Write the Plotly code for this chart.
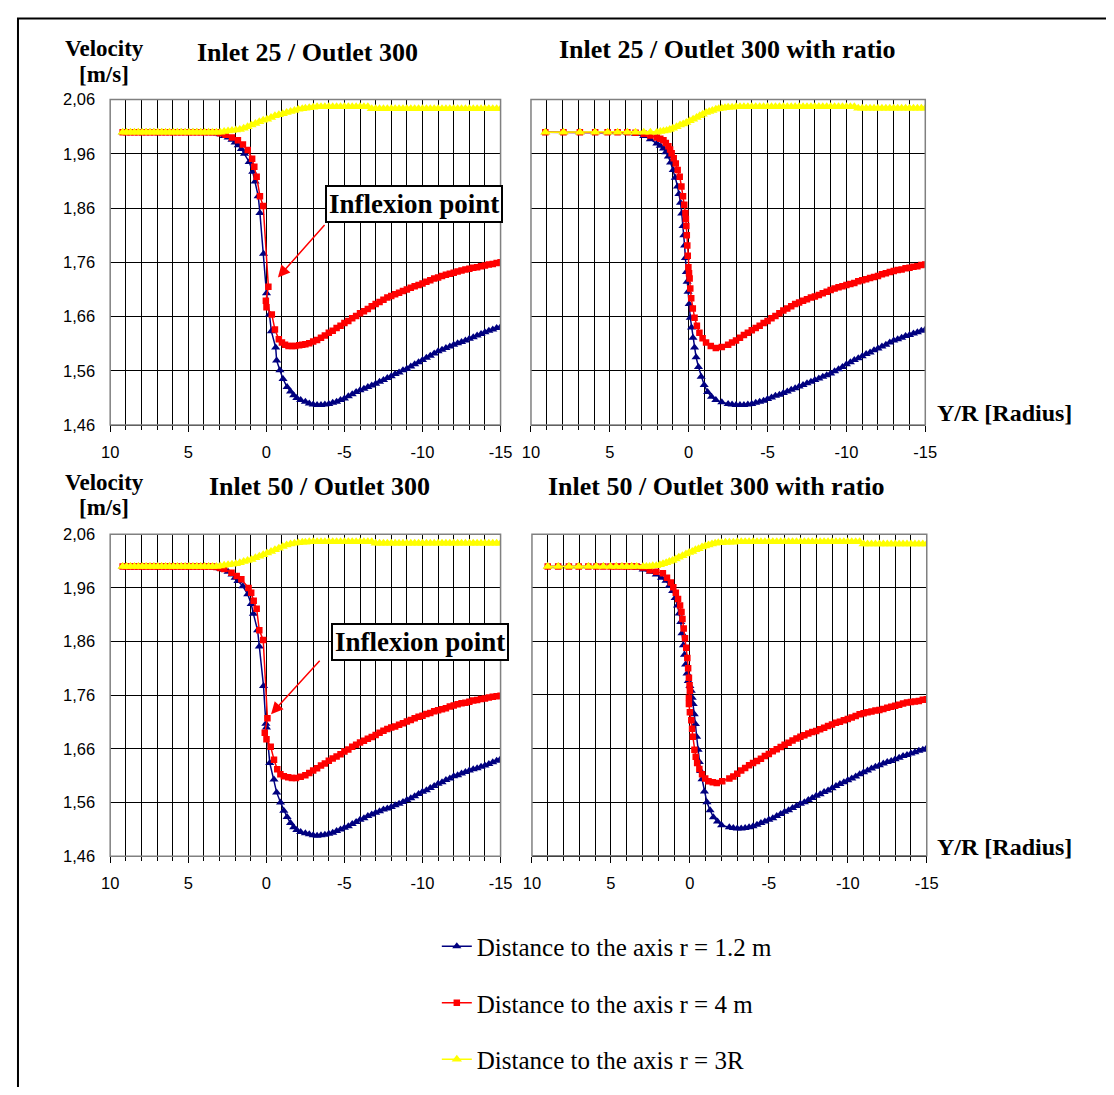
import plotly.graph_objects as go

# the html body has an 8px margin, so the figure is inset by 8px on the page;
# the figure is sized so that figure + margins exactly fill the 1114x1095 window
PAGE_OFF = 8
FW, FH = 1098, 1079

# ---------------- data ----------------
X_TICK_VALS = [10, 5, 0, -5, -10, -15]
X_TICK_TEXT = ["10", "5", "0", "-5", "-10", "-15"]
Y_TICK_VALS = [2.06, 1.96, 1.86, 1.76, 1.66, 1.56, 1.46]
Y_TICK_TEXT = ["2,06", "1,96", "1,86", "1,76", "1,66", "1,56", "1,46"]

SERIES_NAMES = ["Distance to the axis r = 1.2 m",
                "Distance to the axis r = 4 m",
                "Distance to the axis r = 3R"]

PANEL_TITLES = ["Inlet 25 / Outlet 300", "Inlet 25 / Outlet 300 with ratio",
                "Inlet 50 / Outlet 300", "Inlet 50 / Outlet 300 with ratio"]

# outlet-side positions shared by all series
TAIL_X = [-2.5, -2.75, -3.0, -3.25, -3.5, -3.75, -4.0, -4.25, -4.5, -4.75,
          -5.0, -5.25, -5.5, -5.75, -6.0, -6.25, -6.5, -6.75, -7.0, -7.25,
          -7.5, -7.75, -8.0, -8.25, -8.5, -8.75, -9.0, -9.25, -9.5, -9.75,
          -10.0, -10.25, -10.5, -10.75, -11.0, -11.25, -11.5, -11.75, -12.0, -12.25,
          -12.5, -12.75, -13.0, -13.25, -13.5, -13.75, -14.0, -14.25, -14.5, -14.75, -15.0]

# uniform mesh (left panels), inlet side
FLAT_X = [9.2, 8.95, 8.7, 8.45, 8.2, 7.95, 7.7, 7.45, 7.2, 6.95, 6.7, 6.45, 6.2, 5.95,
          5.7, 5.45, 5.2, 4.95, 4.7, 4.45, 4.2, 3.95, 3.7]
FLAT_V = [2.000, 2.000, 2.000, 2.000, 2.000, 2.000, 2.000, 2.000, 2.000, 2.000, 2.000, 2.000,
          2.000, 2.000, 2.000, 2.000, 2.000, 2.000, 2.000, 2.000, 2.000, 2.000, 2.000]

YEL_MID_X = [3.45, 3.2, 2.95, 2.7, 2.45, 2.2, 1.95, 1.7, 1.45, 1.2, 0.95, 0.7, 0.45, 0.2,
             -0.05, -0.3, -0.55, -0.8, -1.05, -1.3, -1.55, -1.8, -2.05, -2.3]

# ---- Panel 1 : Inlet 25 / Outlet 300 ----
P1_BLUE_MID_X = [3.45, 3.2, 2.95, 2.7, 2.45, 2.2, 2.0, 1.8, 1.6, 1.4, 1.1, 0.87, 0.72, 0.52,
                 0.41, 0.18, -0.01, -0.20, -0.32, -0.60, -0.66, -0.87, -1.07, -1.33, -1.55,
                 -1.75, -1.95, -2.2]
P1_BLUE_MID_V = [1.999, 1.998, 1.996, 1.993, 1.990, 1.986, 1.981, 1.976, 1.969, 1.960, 1.945,
                 1.927, 1.909, 1.882, 1.851, 1.776, 1.703, 1.664, 1.633, 1.603, 1.579, 1.561,
                 1.545, 1.530, 1.522, 1.515, 1.510, 1.506]
P1_BLUE_TAIL_V = [1.503, 1.500, 1.498, 1.497, 1.497, 1.498, 1.499, 1.501, 1.503, 1.506,
                  1.509, 1.513, 1.517, 1.521, 1.524, 1.527, 1.530, 1.533, 1.536, 1.540,
                  1.543, 1.547, 1.550, 1.554, 1.557, 1.561, 1.564, 1.568, 1.572, 1.576,
                  1.580, 1.584, 1.588, 1.592, 1.596, 1.599, 1.602, 1.605, 1.608, 1.611,
                  1.613, 1.616, 1.619, 1.622, 1.625, 1.628, 1.631, 1.634, 1.636, 1.639, 1.641]
P1_RED_MID_X = [3.45, 3.2, 2.95, 2.6, 2.2, 1.82, 1.5, 1.19, 0.91, 0.77, 0.62, 0.41, 0.20,
                -0.13, 0.03, -0.01, -0.35, -0.55, -0.80, -1.0, -1.2, -1.42, -1.64, -1.85,
                -2.1, -2.3]
P1_RED_MID_V = [2.000, 2.000, 1.998, 1.995, 1.990, 1.985, 1.977, 1.967, 1.951, 1.936, 1.918,
                1.882, 1.864, 1.715, 1.689, 1.677, 1.664, 1.636, 1.618, 1.612, 1.608, 1.606,
                1.606, 1.606, 1.607, 1.608]
P1_RED_TAIL_V = [1.609, 1.611, 1.614, 1.617, 1.621, 1.625, 1.630, 1.634, 1.639, 1.643,
                 1.648, 1.652, 1.657, 1.661, 1.666, 1.670, 1.674, 1.679, 1.683, 1.687,
                 1.691, 1.695, 1.698, 1.701, 1.704, 1.707, 1.710, 1.713, 1.716, 1.718,
                 1.721, 1.724, 1.727, 1.730, 1.732, 1.735, 1.737, 1.739, 1.741, 1.743,
                 1.745, 1.747, 1.748, 1.750, 1.751, 1.753, 1.754, 1.756, 1.757, 1.759, 1.760]
P1_YEL_MID_V = [2.000, 2.000, 2.000, 2.001, 2.002, 2.003, 2.004, 2.005, 2.007, 2.010, 2.013,
                2.016, 2.019, 2.022, 2.024, 2.027, 2.030, 2.032, 2.034, 2.036, 2.038, 2.040,
                2.042, 2.043]
P1_YEL_TAIL_V = [2.044, 2.045, 2.046, 2.047, 2.047, 2.047, 2.047, 2.047, 2.047, 2.047,
                 2.047, 2.047, 2.047, 2.047, 2.047, 2.047, 2.047, 2.043, 2.043, 2.043,
                 2.043, 2.043, 2.043, 2.043, 2.043, 2.043, 2.043, 2.043, 2.043, 2.043,
                 2.043, 2.043, 2.043, 2.043, 2.043, 2.043, 2.043, 2.043, 2.043, 2.043,
                 2.043, 2.043, 2.043, 2.043, 2.043, 2.043, 2.043, 2.043, 2.043, 2.043, 2.043]

# ---- Panel 2 : Inlet 25 / Outlet 300 with ratio (graded mesh) ----
P2_SPARSE_X = [9.09, 7.94, 6.90, 5.93, 5.14, 4.51, 3.89, 3.37, 2.85, 2.43, 2.02]
P2_BLUE_SPARSE_V = [2.000, 2.000, 2.000, 2.000, 2.000, 2.000, 1.999, 1.997, 1.993, 1.987, 1.979]
P2_BLUE_MID_X = [1.8, 1.6, 1.45, 1.29, 1.15, 0.98, 0.85, 0.71, 0.62, 0.52, 0.44, 0.36, 0.31,
                 0.26, 0.21, 0.15, 0.10, 0.04, -0.03, -0.10, -0.18, -0.27, -0.37, -0.47, -0.62,
                 -0.79, -0.98, -1.2, -1.45, -1.72, -2.1]
P2_BLUE_MID_V = [1.975, 1.970, 1.963, 1.955, 1.944, 1.930, 1.916, 1.900, 1.886, 1.870, 1.850,
                 1.827, 1.810, 1.791, 1.768, 1.742, 1.724, 1.706, 1.683, 1.658, 1.640, 1.621,
                 1.603, 1.585, 1.567, 1.549, 1.534, 1.521, 1.512, 1.506, 1.502]
P2_BLUE_TAIL_V = [1.499, 1.498, 1.497, 1.497, 1.497, 1.498, 1.499, 1.501, 1.503, 1.505,
                  1.508, 1.511, 1.514, 1.516, 1.519, 1.522, 1.525, 1.528, 1.531, 1.534,
                  1.537, 1.540, 1.543, 1.546, 1.549, 1.552, 1.555, 1.559, 1.563, 1.567,
                  1.572, 1.576, 1.580, 1.583, 1.587, 1.591, 1.594, 1.598, 1.601, 1.605,
                  1.608, 1.612, 1.616, 1.618, 1.621, 1.624, 1.626, 1.629, 1.631, 1.634, 1.636]
P2_RED_SPARSE_V = [2.000, 2.000, 2.000, 2.000, 2.000, 2.000, 2.000, 1.999, 1.997, 1.994, 1.990]
P2_RED_MID_X = [1.8, 1.6, 1.45, 1.29, 1.18, 1.08, 0.95, 0.82, 0.70, 0.57, 0.46, 0.36, 0.28,
                0.21, 0.18, 0.15, 0.12, 0.09, 0.06, 0.02, -0.02, -0.06, -0.10, -0.16, -0.26,
                -0.37, -0.52, -0.68, -0.88, -1.1, -1.4, -1.72, -2.1]
P2_RED_MID_V = [1.988, 1.985, 1.980, 1.974, 1.968, 1.961, 1.952, 1.942, 1.930, 1.918, 1.900,
                1.882, 1.866, 1.851, 1.840, 1.827, 1.810, 1.791, 1.772, 1.751, 1.740, 1.730,
                1.712, 1.694, 1.675, 1.658, 1.643, 1.630, 1.620, 1.612, 1.606, 1.602, 1.604]
P2_RED_TAIL_V = [1.608, 1.612, 1.616, 1.621, 1.626, 1.630, 1.635, 1.639, 1.643, 1.648,
                 1.652, 1.657, 1.661, 1.666, 1.671, 1.675, 1.679, 1.683, 1.686, 1.689,
                 1.692, 1.695, 1.697, 1.700, 1.703, 1.706, 1.709, 1.712, 1.714, 1.716,
                 1.718, 1.720, 1.722, 1.725, 1.727, 1.729, 1.731, 1.733, 1.735, 1.738,
                 1.740, 1.742, 1.744, 1.746, 1.747, 1.749, 1.750, 1.752, 1.753, 1.755, 1.756]
P2_YEL_SPARSE_V = [2.000, 2.000, 2.000, 2.000, 2.000, 2.000, 2.000, 2.000, 2.000, 2.000, 2.000]
P2_YEL_MID_X = [1.8, 1.6, 1.4, 1.2, 1.0, 0.77, 0.55, 0.35, 0.15, -0.06, -0.28, -0.5, -0.7,
                -0.89, -1.1, -1.3, -1.5, -1.72, -1.9, -2.1, -2.3]
P2_YEL_MID_V = [2.001, 2.002, 2.003, 2.005, 2.007, 2.010, 2.013, 2.015, 2.018, 2.021, 2.024,
                2.027, 2.030, 2.033, 2.036, 2.038, 2.040, 2.042, 2.043, 2.044, 2.045]
P2_YEL_TAIL_V = [2.046, 2.046, 2.047, 2.047, 2.047, 2.047, 2.047, 2.047, 2.047, 2.047,
                 2.047, 2.047, 2.047, 2.047, 2.047, 2.047, 2.047, 2.047, 2.047, 2.047,
                 2.047, 2.047, 2.047, 2.047, 2.047, 2.047, 2.047, 2.047, 2.047, 2.047,
                 2.047, 2.047, 2.047, 2.044, 2.044, 2.044, 2.044, 2.044, 2.044, 2.044,
                 2.044, 2.044, 2.044, 2.044, 2.044, 2.044, 2.044, 2.044, 2.044, 2.044, 2.044]

# ---- Panel 3 : Inlet 50 / Outlet 300 ----
P3_BLUE_MID_X = [3.45, 3.2, 2.95, 2.7, 2.45, 2.2, 2.0, 1.82, 1.5, 1.19, 0.97, 0.83, 0.56,
                 0.45, 0.18, 0.03, -0.01, -0.22, -0.49, -0.66, -0.91, -1.12, -1.33, -1.55,
                 -1.75, -1.95, -2.2]
P3_BLUE_MID_V = [1.999, 1.998, 1.996, 1.994, 1.990, 1.985, 1.979, 1.973, 1.963, 1.948, 1.930,
                 1.912, 1.881, 1.851, 1.777, 1.707, 1.700, 1.634, 1.603, 1.579, 1.560, 1.545,
                 1.533, 1.522, 1.514, 1.509, 1.505]
P3_BLUE_TAIL_V = [1.503, 1.501, 1.499, 1.498, 1.499, 1.500, 1.502, 1.504, 1.507, 1.510,
                  1.513, 1.516, 1.520, 1.524, 1.528, 1.531, 1.535, 1.538, 1.541, 1.544,
                  1.547, 1.549, 1.552, 1.555, 1.558, 1.561, 1.565, 1.568, 1.572, 1.576,
                  1.580, 1.583, 1.587, 1.591, 1.595, 1.598, 1.602, 1.605, 1.609, 1.611,
                  1.614, 1.617, 1.620, 1.622, 1.624, 1.627, 1.629, 1.632, 1.635, 1.638, 1.641]
P3_RED_MID_X = [3.45, 3.2, 2.95, 2.7, 2.23, 1.9, 1.6, 1.14, 0.97, 0.81, 0.62, 0.45, 0.20,
                -0.07, 0.10, -0.01, -0.28, -0.49, -0.70, -0.9, -1.12, -1.4, -1.64, -1.9, -2.2]
P3_RED_MID_V = [2.000, 1.999, 1.997, 1.995, 1.988, 1.982, 1.976, 1.960, 1.951, 1.936, 1.921,
                1.881, 1.863, 1.717, 1.690, 1.678, 1.664, 1.640, 1.622, 1.613, 1.609, 1.607,
                1.606, 1.606, 1.608]
P3_RED_TAIL_V = [1.611, 1.615, 1.620, 1.624, 1.629, 1.633, 1.638, 1.642, 1.646, 1.650,
                 1.655, 1.659, 1.664, 1.668, 1.672, 1.675, 1.679, 1.682, 1.686, 1.690,
                 1.694, 1.697, 1.700, 1.702, 1.705, 1.708, 1.711, 1.714, 1.717, 1.720,
                 1.722, 1.725, 1.727, 1.730, 1.732, 1.734, 1.736, 1.739, 1.741, 1.743,
                 1.745, 1.746, 1.748, 1.750, 1.751, 1.753, 1.754, 1.756, 1.757, 1.758, 1.759]
P3_YEL_MID_V = [2.000, 2.000, 2.001, 2.002, 2.003, 2.004, 2.005, 2.007, 2.009, 2.011, 2.013,
                2.016, 2.019, 2.022, 2.025, 2.028, 2.031, 2.034, 2.037, 2.040, 2.042, 2.043,
                2.044, 2.045]
P3_YEL_TAIL_V = [2.045, 2.046, 2.046, 2.046, 2.046, 2.046, 2.046, 2.046, 2.046, 2.046,
                 2.046, 2.046, 2.046, 2.046, 2.046, 2.046, 2.046, 2.046, 2.043, 2.043,
                 2.043, 2.043, 2.043, 2.043, 2.043, 2.043, 2.043, 2.043, 2.043, 2.043,
                 2.043, 2.043, 2.043, 2.043, 2.043, 2.043, 2.043, 2.043, 2.043, 2.043,
                 2.043, 2.043, 2.043, 2.043, 2.043, 2.043, 2.043, 2.043, 2.043, 2.043, 2.043]

# ---- Panel 4 : Inlet 50 / Outlet 300 with ratio (graded mesh) ----
P4_SPARSE_X = [9.00, 8.34, 7.66, 7.04, 6.43, 5.92, 5.48, 5.03, 4.66, 4.30, 4.00, 3.68, 3.37]
P4_BLUE_SPARSE_V = [2.000, 2.000, 2.000, 2.000, 2.000, 2.000, 2.000, 2.000, 2.000, 2.000,
                    2.000, 2.000, 1.998]
P4_BLUE_MID_X = [2.96, 2.5, 2.13, 1.8, 1.51, 1.3, 1.09, 0.93, 0.78, 0.68, 0.58, 0.50, 0.41,
                 0.34, 0.27, 0.18, 0.10, 0.0, -0.09, -0.15, -0.21, -0.28, -0.35, -0.43, -0.52,
                 -0.60, -0.68, -0.77, -0.92, -1.08, -1.28, -1.49, -1.75, -2.01]
P4_BLUE_MID_V = [1.994, 1.990, 1.985, 1.979, 1.973, 1.964, 1.954, 1.941, 1.927, 1.912, 1.896,
                 1.875, 1.853, 1.835, 1.817, 1.800, 1.786, 1.777, 1.768, 1.755, 1.743, 1.724,
                 1.706, 1.682, 1.658, 1.635, 1.618, 1.603, 1.580, 1.560, 1.545, 1.532, 1.524,
                 1.517]
P4_BLUE_TAIL_V = [1.513, 1.512, 1.511, 1.511, 1.512, 1.513, 1.515, 1.518, 1.521, 1.524,
                  1.527, 1.530, 1.534, 1.538, 1.542, 1.545, 1.549, 1.553, 1.557, 1.560,
                  1.564, 1.568, 1.572, 1.575, 1.579, 1.582, 1.586, 1.590, 1.594, 1.597,
                  1.601, 1.604, 1.608, 1.612, 1.616, 1.619, 1.623, 1.626, 1.629, 1.632,
                  1.635, 1.637, 1.640, 1.643, 1.646, 1.648, 1.651, 1.653, 1.656, 1.658, 1.661]
P4_RED_SPARSE_V = [2.000, 2.000, 2.000, 2.000, 2.000, 2.000, 2.000, 2.000, 2.000, 2.000,
                   2.000, 2.000, 2.000]
P4_RED_MID_X = [2.96, 2.55, 2.13, 1.71, 1.45, 1.2, 1.05, 0.89, 0.75, 0.62, 0.53, 0.47, 0.39,
                0.31, 0.23, 0.16, 0.11, 0.06, 0.02, 0.0, 0.06, 0.06, 0.0, -0.09, -0.14, -0.19,
                -0.29, -0.37, -0.46, -0.6, -0.77, -0.97, -1.18, -1.45, -1.7, -2.05]
P4_RED_MID_V = [1.998, 1.993, 1.990, 1.987, 1.979, 1.970, 1.961, 1.951, 1.939, 1.927, 1.915,
                1.902, 1.884, 1.866, 1.848, 1.829, 1.810, 1.792, 1.778, 1.768, 1.755, 1.743,
                1.728, 1.713, 1.697, 1.682, 1.658, 1.645, 1.633, 1.622, 1.612, 1.604, 1.599,
                1.597, 1.596, 1.599]
P4_RED_TAIL_V = [1.604, 1.608, 1.613, 1.619, 1.624, 1.629, 1.633, 1.637, 1.641, 1.646,
                 1.650, 1.655, 1.659, 1.663, 1.667, 1.671, 1.675, 1.679, 1.682, 1.685,
                 1.688, 1.691, 1.693, 1.696, 1.699, 1.702, 1.705, 1.708, 1.710, 1.713,
                 1.715, 1.718, 1.721, 1.724, 1.726, 1.728, 1.729, 1.731, 1.732, 1.734,
                 1.736, 1.738, 1.740, 1.742, 1.744, 1.746, 1.747, 1.748, 1.749, 1.751, 1.752]
P4_YEL_SPARSE_V = [2.000, 2.000, 2.000, 2.000, 2.000, 2.000, 2.000, 2.000, 2.000, 2.000,
                   2.000, 2.000, 2.000]
P4_YEL_MID_X = [2.96, 2.75, 2.55, 2.35, 2.13, 1.9, 1.7, 1.5, 1.3, 1.1, 0.9, 0.7, 0.47, 0.25,
                0.05, -0.15, -0.35, -0.55, -0.77, -0.97, -1.18, -1.4, -1.6, -1.8, -2.01, -2.25]
P4_YEL_MID_V = [2.000, 2.000, 2.000, 2.001, 2.001, 2.003, 2.005, 2.007, 2.009, 2.011, 2.014,
                2.017, 2.020, 2.023, 2.026, 2.028, 2.031, 2.033, 2.036, 2.038, 2.040, 2.042,
                2.043, 2.044, 2.044, 2.045]
P4_YEL_TAIL_V = [2.045, 2.045, 2.046, 2.046, 2.046, 2.046, 2.046, 2.046, 2.046, 2.046,
                 2.046, 2.046, 2.046, 2.046, 2.046, 2.046, 2.046, 2.046, 2.046, 2.046,
                 2.046, 2.046, 2.046, 2.046, 2.046, 2.046, 2.046, 2.046, 2.046, 2.046,
                 2.046, 2.046, 2.046, 2.046, 2.042, 2.042, 2.042, 2.042, 2.042, 2.042,
                 2.042, 2.042, 2.042, 2.042, 2.042, 2.042, 2.042, 2.042, 2.042, 2.042, 2.042]

# assemble series per panel: (x, y) for blue, red, yellow
PANELS = [
    [(FLAT_X + P1_BLUE_MID_X + TAIL_X, FLAT_V + P1_BLUE_MID_V + P1_BLUE_TAIL_V),
     (FLAT_X + P1_RED_MID_X + TAIL_X, FLAT_V + P1_RED_MID_V + P1_RED_TAIL_V),
     (FLAT_X + YEL_MID_X + TAIL_X, FLAT_V + P1_YEL_MID_V + P1_YEL_TAIL_V)],
    [(P2_SPARSE_X + P2_BLUE_MID_X + TAIL_X, P2_BLUE_SPARSE_V + P2_BLUE_MID_V + P2_BLUE_TAIL_V),
     (P2_SPARSE_X + P2_RED_MID_X + TAIL_X, P2_RED_SPARSE_V + P2_RED_MID_V + P2_RED_TAIL_V),
     (P2_SPARSE_X + P2_YEL_MID_X + TAIL_X, P2_YEL_SPARSE_V + P2_YEL_MID_V + P2_YEL_TAIL_V)],
    [(FLAT_X + P3_BLUE_MID_X + TAIL_X, FLAT_V + P3_BLUE_MID_V + P3_BLUE_TAIL_V),
     (FLAT_X + P3_RED_MID_X + TAIL_X, FLAT_V + P3_RED_MID_V + P3_RED_TAIL_V),
     (FLAT_X + YEL_MID_X + TAIL_X, FLAT_V + P3_YEL_MID_V + P3_YEL_TAIL_V)],
    [(P4_SPARSE_X + P4_BLUE_MID_X + TAIL_X, P4_BLUE_SPARSE_V + P4_BLUE_MID_V + P4_BLUE_TAIL_V),
     (P4_SPARSE_X + P4_RED_MID_X + TAIL_X, P4_RED_SPARSE_V + P4_RED_MID_V + P4_RED_TAIL_V),
     (P4_SPARSE_X + P4_YEL_MID_X + TAIL_X, P4_YEL_SPARSE_V + P4_YEL_MID_V + P4_YEL_TAIL_V)],
]

# ---------------- styling ----------------
SERIF = "Liberation Serif, Times New Roman, serif"
SANS = "Liberation Sans, Arial, sans-serif"
COLORS = ["#000080", "#FF0000", "#FFFF00"]
SYMBOLS = ["triangle-up", "square", "triangle-up"]
SIZES = [8, 6.5, 9]
LINE_W = [1.5, 1.5, 1.5]


def px_x(p):
    return (p - PAGE_OFF) / FW


def px_y(p):
    return 1 - (p - PAGE_OFF) / FH


def sfx(k):
    return "" if k == 1 else str(k)


# panel pixel boxes on the page: (left, right, top, bottom)
BOXES = [(103, 501, 92, 423), (532, 934, 92, 423),
         (103, 501, 534, 861.5), (533, 935.5, 534, 861)]

fig = go.Figure()

for i, series in enumerate(PANELS):
    s = sfx(i + 1)
    for j, (xs, ys) in enumerate(series):
        fig.add_trace(go.Scatter(
            x=xs, y=ys, mode="lines+markers", name=SERIES_NAMES[j],
            xaxis=f"x{s}", yaxis=f"y{s}",
            line=dict(color=COLORS[j], width=LINE_W[j]),
            marker=dict(symbol=SYMBOLS[j], size=SIZES[j], color=COLORS[j]),
            legendgroup=f"g{j}", showlegend=(i == 0),
        ))

layout = dict(
    width=FW, height=FH, margin=dict(l=0, r=0, t=0, b=0),
    paper_bgcolor="white", plot_bgcolor="white",
    showlegend=True,
    legend=dict(x=px_x(436), y=px_y(930), xanchor="left", yanchor="top",
                font=dict(family=SERIF, size=25, color="black"),
                tracegroupgap=21, bgcolor="rgba(0,0,0,0)", traceorder="grouped"),
)

shapes = []
for i, (l, r, t, b) in enumerate(BOXES):
    s = sfx(i + 1)
    left_col = (i % 2 == 0)
    layout[f"xaxis{s}"] = dict(
        domain=[px_x(l), px_x(r)], range=[10, -15], anchor=f"y{s}",
        tickmode="array", tickvals=X_TICK_VALS, ticktext=X_TICK_TEXT,
        ticks="outside", ticklen=6, tickcolor="black", tickwidth=1,
        showline=True, linecolor="black", linewidth=1, mirror=False,
        showgrid=True, gridcolor="#000000", gridwidth=1, zeroline=False,
        tickfont=dict(family=SANS, size=16.5, color="black"),
        ticklabelstandoff=6,
        minor=dict(tickmode="linear", tick0=0, dtick=1, ticks="outside", ticklen=4,
                   tickcolor="black", showgrid=True, gridcolor="#000000", gridwidth=1),
    )
    layout[f"yaxis{s}"] = dict(
        domain=[px_y(b), px_y(t)], range=[1.46, 2.06], anchor=f"x{s}",
        tickmode="array", tickvals=Y_TICK_VALS, ticktext=Y_TICK_TEXT,
        ticks="", showticklabels=left_col,
        showline=False, showgrid=True, gridcolor="#000000", gridwidth=1, zeroline=False,
        tickfont=dict(family=SANS, size=16.5, color="black"),
        ticklabelstandoff=14,
    )
    shapes.append(dict(type="rect", xref=f"x{s} domain", yref=f"y{s} domain",
                       x0=0, x1=1, y0=0, y1=1, line=dict(color="#808080", width=1.5),
                       layer="above"))

# outer frame (right and bottom sides fall outside the picture)
shapes.append(dict(type="rect", xref="paper", yref="paper",
                   x0=1 / FW, x1=1.05, y0=-0.05, y1=1 - 1.5 / FH,
                   line=dict(color="black", width=2), layer="above"))
layout["shapes"] = shapes

ann = []
# panel titles
TITLE_POS = [(304, 44), (732, 41), (316, 485), (721, 485)]
for (tx, ty), txt in zip(TITLE_POS, PANEL_TITLES):
    ann.append(dict(x=px_x(tx), y=px_y(ty), xref="paper", yref="paper", text=f"<b>{txt}</b>",
                    showarrow=False, xanchor="center", yanchor="middle",
                    font=dict(family=SERIF, size=26, color="black")))
# velocity labels
for vy in (40, 481):
    ann.append(dict(x=px_x(97), y=px_y(vy), xref="paper", yref="paper", text="<b>Velocity</b>",
                    showarrow=False, xanchor="center", yanchor="middle",
                    font=dict(family=SERIF, size=23, color="black")))
    ann.append(dict(x=px_x(97), y=px_y(vy + 26), xref="paper", yref="paper", text="<b>[m/s]</b>",
                    showarrow=False, xanchor="center", yanchor="middle",
                    font=dict(family=SERIF, size=23, color="black")))
# x-axis labels
for ry in (411, 852):
    ann.append(dict(x=px_x(1015), y=px_y(ry), xref="paper", yref="paper",
                    text="<b>Y/R [Radius]</b>", showarrow=False, xanchor="center",
                    yanchor="middle", font=dict(family=SERIF, size=24, color="black")))
# inflexion point boxes
for (bx0, bx1, by0, by1) in ((322, 503, 179, 217), (326, 512, 625, 662)):
    ann.append(dict(x=px_x((bx0 + bx1) / 2), y=px_y((by0 + by1) / 2), xref="paper",
                    yref="paper", text="<b>Inflexion point</b>", showarrow=False,
                    xanchor="center", yanchor="middle", bgcolor="white",
                    bordercolor="black", borderwidth=2, borderpad=2,
                    font=dict(family=SERIF, size=27, color="black")))
# arrows
for (tipx, tipy, tailx, taily) in ((274, 273, 322, 219), (267, 717, 317, 662)):
    ann.append(dict(x=px_x(tipx), y=px_y(tipy), xref="paper", yref="paper", text="",
                    showarrow=True, arrowhead=2, arrowsize=1.6, arrowwidth=1.5,
                    arrowcolor="#FF0000", ax=tailx - tipx, ay=taily - tipy))
layout["annotations"] = ann

fig.update_layout(**layout)
fig.write_html("out.html")
